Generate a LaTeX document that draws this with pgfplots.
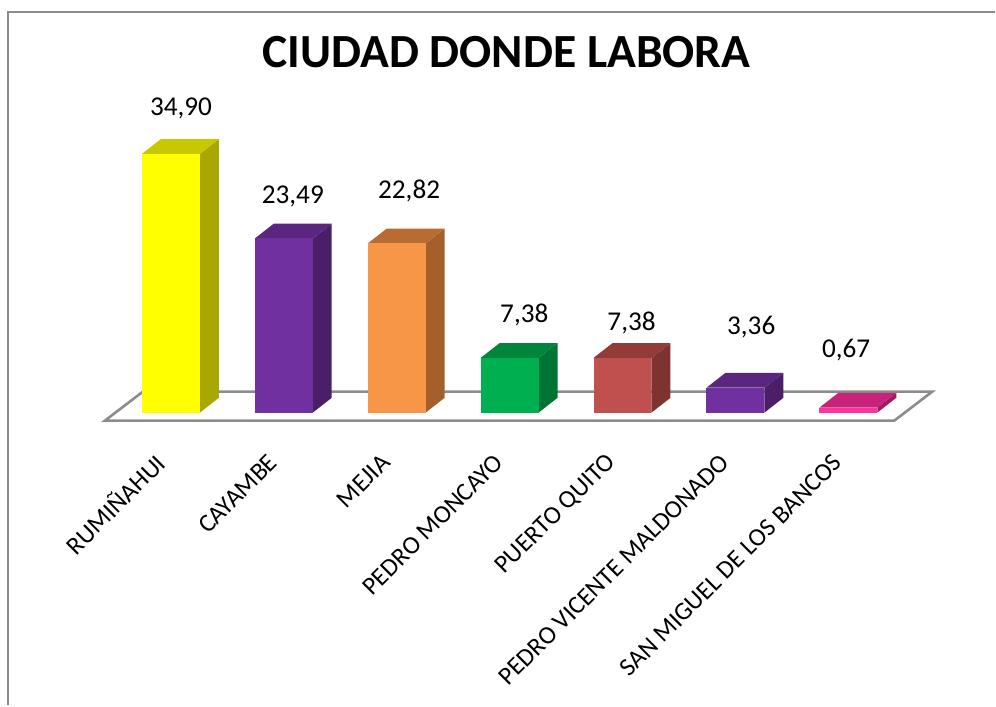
\documentclass[border=0pt]{standalone}
\usepackage{pgfplots}
\pgfplotsset{compat=1.18}
\usepackage{pgfplotstable}
\usepackage{fontspec}
\setmainfont{Carlito}

% front / side / top shades for each bar
\definecolor{front0}{HTML}{FFFF00}\definecolor{side0}{HTML}{A8A800}\definecolor{top0}{HTML}{C8C800}
\definecolor{front1}{HTML}{7030A0}\definecolor{side1}{HTML}{4A1F68}\definecolor{top1}{HTML}{5A2680}
\definecolor{front2}{HTML}{F79646}\definecolor{side2}{HTML}{A45F2B}\definecolor{top2}{HTML}{B86B32}
\definecolor{front3}{HTML}{00B050}\definecolor{side3}{HTML}{007432}\definecolor{top3}{HTML}{00853C}
\definecolor{front4}{HTML}{C0504D}\definecolor{side4}{HTML}{7F3331}\definecolor{top4}{HTML}{923B39}
\definecolor{front5}{HTML}{7030A0}\definecolor{side5}{HTML}{4A1F68}\definecolor{top5}{HTML}{5A2680}
\definecolor{front6}{HTML}{FF3399}\definecolor{side6}{HTML}{9E1C5F}\definecolor{top6}{HTML}{C8237A}
\definecolor{floorline}{HTML}{8C8C8C}

% x, value, label position
\pgfplotstableread{
x v     lx    ly
0 34.90 0.09  41.1
1 23.49 1.08  29.1
2 22.82 2.11  29.9
3 7.38  3.13  13.2
4 7.38  4.08  12.1
5 3.36  5.14  11.6
6 0.67  5.98  8.5
}\datatable

\def\hw{0.2566}
\def\dx{0.168}
\def\dy{2.0}

\begin{document}
\begin{tikzpicture}
\begin{axis}[
  scale only axis,
  width=498pt, height=353pt,
  xmin=-1.5133, xmax=7.3009,
  ymin=-39.49, ymax=55.66,
  axis x line*=middle,
  hide y axis,
  x axis line style={draw=none},
  xtick={0,...,6},
  xtick style={draw=none},
  xticklabels={RUMIÑAHUI, CAYAMBE, MEJIA, PEDRO MONCAYO, PUERTO QUITO, PEDRO VICENTE MALDONADO, SAN MIGUEL DE LOS BANCOS},
  xticklabel style={rotate=45, anchor=east, font=\fontsize{12.7}{14}\selectfont, xshift=-16.6pt, yshift=-12.4pt},
  title={CIUDAD DONDE LABORA},
  title style={at={(rel axis cs:0.509,0.909)}, anchor=center, font=\fontsize{23.8}{28}\selectfont\bfseries},
  clip=false,
]
  % keep the whole canvas in the bounding box
  \path (rel axis cs:0,0) rectangle (rel axis cs:1,1);
  % frame
  \draw[floorline, line width=0.8pt] (rel axis cs:0.008,0) -- (rel axis cs:0.008,0.983) -- (rel axis cs:1,0.983);

  % floor
  \addplot[fill=white, draw=floorline, line width=1.3pt] coordinates {(-0.584,-1.08) (6.407,-1.08) (6.743,2.83) (-0.248,2.83)} --cycle;

  \pgfplotsinvokeforeach{0,...,6}{
    \pgfplotstablegetelem{#1}{v}\of\datatable
    \pgfmathsetmacro\va{\pgfplotsretval}
    \pgfmathsetmacro\xa{#1-\hw}
    \pgfmathsetmacro\xb{#1+\hw}
    \pgfmathsetmacro\xc{#1+\hw+\dx}
    \pgfmathsetmacro\xd{#1-\hw+\dx}
    \pgfmathsetmacro\yt{\va+\dy}
    \edef\tmp{%
      \noexpand\addplot[draw=none, fill=side#1] coordinates {(\xb,0) (\xc,\dy) (\xc,\yt) (\xb,\va)} --cycle;
      \noexpand\addplot[draw=none, fill=top#1] coordinates {(\xa,\va) (\xb,\va) (\xc,\yt) (\xd,\yt)} --cycle;
      \noexpand\addplot[draw=none, fill=front#1] coordinates {(\xa,0) (\xb,0) (\xb,\va) (\xa,\va)} --cycle;
    }\tmp
  }

  % value labels
  \addplot[draw=none, mark=none,
    point meta=\thisrow{v},
    nodes near coords,
    nodes near coords style={anchor=center, font=\fontsize{13.6}{16}\selectfont,
      /pgf/number format/.cd, fixed, fixed zerofill, precision=2, use comma, assume math mode=true},
  ] table[x=lx, y=ly] {\datatable};
\end{axis}
\end{tikzpicture}
\end{document}
